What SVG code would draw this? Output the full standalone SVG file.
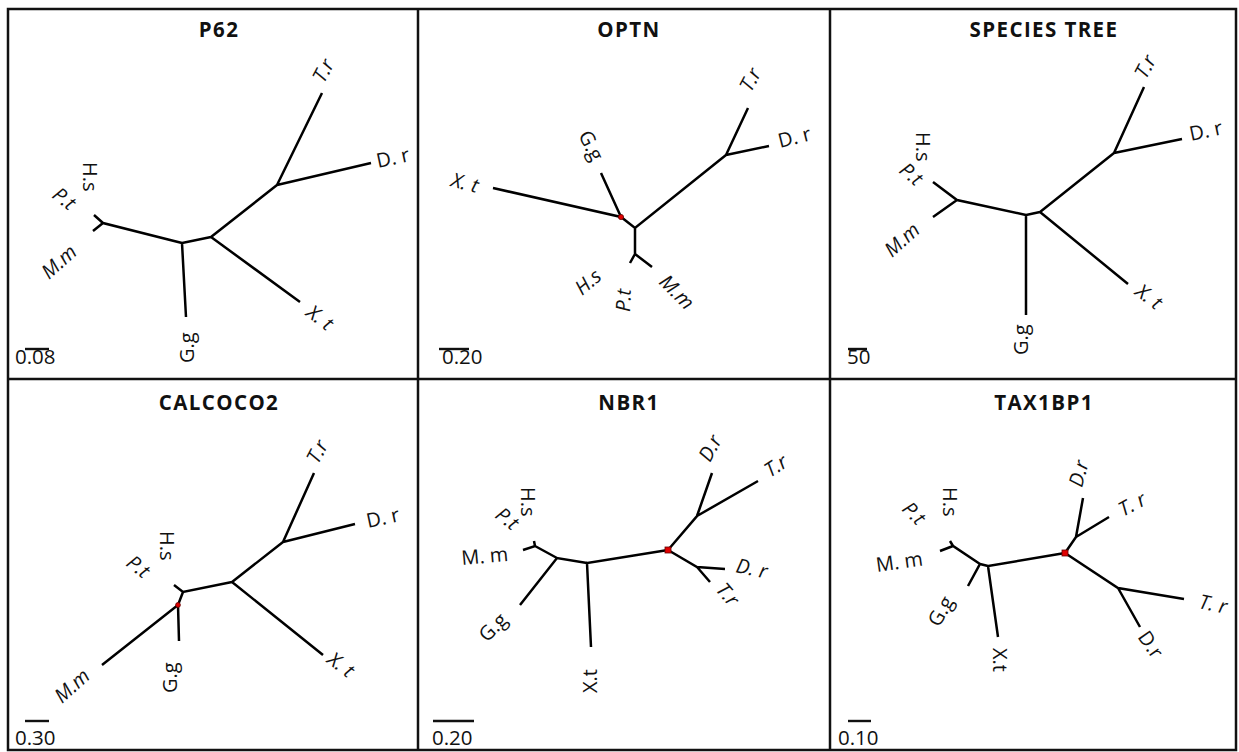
<svg xmlns="http://www.w3.org/2000/svg" width="1239" height="752" viewBox="0 0 1239 752">
  <style>
    .frame { fill: none; stroke: #111; stroke-width: 2.5; }
    .edge { stroke: #000; stroke-width: 2.5; fill: none; }
    .lbl { font-family: "Open Sans", "Liberation Sans", sans-serif; font-size: 20px; fill: #111; }
    .it { font-style: italic; }
    .title { font-family: "Open Sans", "Liberation Sans", sans-serif; font-weight: bold; font-size: 20.5px; letter-spacing: 1.4px; text-anchor: middle; fill: #111; }
    .bar { stroke: #111; stroke-width: 2.4; }
    .barlbl { font-family: "Open Sans", "Liberation Sans", sans-serif; font-size: 20.5px; fill: #111; }
    .dup { fill: #e00000; stroke: #600; stroke-width: 0.8; }
  </style>

  <rect id="background" x="0" y="0" width="1239" height="752" fill="#fff"/>

  <!-- panel grid -->
  <g id="grid">
    <rect class="frame" x="8" y="9" width="1228" height="741"/>
    <line class="frame" x1="418" y1="9" x2="418" y2="750"/>
    <line class="frame" x1="830" y1="9" x2="830" y2="750"/>
    <line class="frame" x1="8" y1="379" x2="1236" y2="379"/>
  </g>

  <!-- P62 -->
  <g id="p62">
    <text class="title" x="219" y="37">P62</text>
    <g id="p62-edges" class="edge">
      <path d="M277,185 L322,93 M277,185 L371,163 M277,185 L211,237 L300,302 M211,237 L182,243 L186,317 M182,243 L103,223 L94,215 M103,223 L93,231"/>
    </g>
    <g id="p62-leaves">
      <text class="lbl it" transform="translate(324,84) rotate(-62)">T.r</text>
      <text class="lbl" transform="translate(378,168) rotate(-12)">D. r</text>
      <text class="lbl it" transform="translate(305,315) rotate(37)">X. t</text>
      <text class="lbl" transform="translate(194,363) rotate(-90)">G.g</text>
      <text class="lbl it" transform="translate(49,280) rotate(-42)">M.m</text>
      <text class="lbl it" transform="translate(51,197) rotate(38)">P.t</text>
      <text class="lbl" transform="translate(83,162) rotate(90)">H.s</text>
    </g>
    <g id="p62-scale">
      <line class="bar" x1="25" y1="349" x2="49" y2="349"/>
      <text class="barlbl" x="15" y="364">0.08</text>
    </g>
  </g>

  <!-- OPTN -->
  <g id="optn">
    <text class="title" x="629" y="37">OPTN</text>
    <g id="optn-edges" class="edge">
      <path d="M726,155 L748,108 M726,155 L769,146 M726,155 L635,228 L621,217 L493,188 M621,217 L601,173 M635,228 L635,254 L630,263 M635,254 L652,267"/>
    </g>
    <circle class="dup" cx="621" cy="217" r="2.6"/>
    <g id="optn-leaves">
      <text class="lbl it" transform="translate(751,93) rotate(-62)">T.r</text>
      <text class="lbl" transform="translate(780,148) rotate(-14)">D. r</text>
      <text class="lbl it" transform="translate(450,186) rotate(15)">X. t</text>
      <text class="lbl" transform="translate(578,135) rotate(63)">G.g</text>
      <text class="lbl it" transform="translate(582,296) rotate(-40)">H.s</text>
      <text class="lbl it" transform="translate(630,312) rotate(-88)">P.t</text>
      <text class="lbl it" transform="translate(658,283) rotate(45)">M.m</text>
    </g>
    <g id="optn-scale">
      <line class="bar" x1="439" y1="349" x2="469" y2="349"/>
      <text class="barlbl" x="442" y="364">0.20</text>
    </g>
  </g>

  <!-- SPECIES TREE -->
  <g id="species">
    <text class="title" x="1044" y="37">SPECIES TREE</text>
    <g id="species-edges" class="edge">
      <path d="M1114,153 L1144,87 M1114,153 L1182,139 M1114,153 L1040,212 L1128,284 M1040,212 L1026,215 L1026,315 M1026,215 L957,200 L933,182 M957,200 L933,217"/>
    </g>
    <g id="species-leaves">
      <text class="lbl it" transform="translate(1146,80) rotate(-62)">T.r</text>
      <text class="lbl" transform="translate(1191,141) rotate(-12)">D. r</text>
      <text class="lbl it" transform="translate(1134,294) rotate(37)">X. t</text>
      <text class="lbl" transform="translate(1028,355) rotate(-90)">G.g</text>
      <text class="lbl it" transform="translate(892,258) rotate(-42)">M.m</text>
      <text class="lbl it" transform="translate(898,172) rotate(40)">P.t</text>
      <text class="lbl" transform="translate(916,132) rotate(90)">H.s</text>
    </g>
    <g id="species-scale">
      <line class="bar" x1="848" y1="349" x2="867" y2="349"/>
      <text class="barlbl" x="847" y="364">50</text>
    </g>
  </g>

  <!-- CALCOCO2 -->
  <g id="calcoco2">
    <text class="title" x="219" y="410">CALCOCO2</text>
    <g id="calcoco2-edges" class="edge">
      <path d="M283,542 L314,473 M283,542 L355,524 M283,542 L232,582 L323,655 M232,582 L183,592 L174,585 M183,592 L178,605 L102,665 M178,605 L179,641"/>
    </g>
    <circle class="dup" cx="178" cy="605" r="2.4"/>
    <g id="calcoco2-leaves">
      <text class="lbl it" transform="translate(318,465) rotate(-62)">T.r</text>
      <text class="lbl" transform="translate(368,528) rotate(-12)">D. r</text>
      <text class="lbl it" transform="translate(326,662) rotate(37)">X. t</text>
      <text class="lbl" transform="translate(177,693) rotate(-90)">G.g</text>
      <text class="lbl it" transform="translate(62,704) rotate(-42)">M.m</text>
      <text class="lbl it" transform="translate(125,565) rotate(38)">P.t</text>
      <text class="lbl" transform="translate(160,531) rotate(90)">H.s</text>
    </g>
    <g id="calcoco2-scale">
      <line class="bar" x1="25" y1="721" x2="49" y2="721"/>
      <text class="barlbl" x="15" y="745">0.30</text>
    </g>
  </g>

  <!-- NBR1 -->
  <g id="nbr1">
    <text class="title" x="629" y="410">NBR1</text>
    <g id="nbr1-edges" class="edge">
      <path d="M668,550 L697,516 L712,473 M697,516 L758,481 M668,550 L697,567 L725,569 M697,567 L710,582 M668,550 L587,563 L591,647 M587,563 L557,558 L520,605 M557,558 L535,546 L523,550 M535,546 L534,541"/>
    </g>
    <rect class="dup" x="665" y="547" width="6" height="6"/>
    <g id="nbr1-leaves">
      <text class="lbl it" transform="translate(710,463) rotate(-62)">D.r</text>
      <text class="lbl it" transform="translate(770,478) rotate(-33)">T.r</text>
      <text class="lbl it" transform="translate(735,572) rotate(12)">D. r</text>
      <text class="lbl it" transform="translate(715,590) rotate(50)">T.r</text>
      <text class="lbl" transform="translate(597,693) rotate(-90)">X.t</text>
      <text class="lbl" transform="translate(487,643) rotate(-45)">G.g</text>
      <text class="lbl" transform="translate(462,565) rotate(-5)">M. m</text>
      <text class="lbl it" transform="translate(494,517) rotate(38)">P.t</text>
      <text class="lbl" transform="translate(521,487) rotate(90)">H.s</text>
    </g>
    <g id="nbr1-scale">
      <line class="bar" x1="433" y1="721" x2="474" y2="721" stroke="#4a4240"/>
      <text class="barlbl" x="432" y="745">0.20</text>
    </g>
  </g>

  <!-- TAX1BP1 -->
  <g id="tax1bp1">
    <text class="title" x="1044" y="410">TAX1BP1</text>
    <g id="tax1bp1-edges" class="edge">
      <path d="M1065,553 L1076,537 L1083,498 M1076,537 L1109,517 M1065,553 L1118,588 L1184,599 M1118,588 L1140,627 M1065,553 L988,566 L998,637 M988,566 L980,564 L968,586 M980,564 L953,546 L940,551 M953,546 L950,541"/>
    </g>
    <rect class="dup" x="1062" y="550" width="6" height="6"/>
    <g id="tax1bp1-leaves">
      <text class="lbl it" transform="translate(1082,488) rotate(-75)">D.r</text>
      <text class="lbl it" transform="translate(1123,517) rotate(-28)">T. r</text>
      <text class="lbl it" transform="translate(1198,608) rotate(12)">T. r</text>
      <text class="lbl" transform="translate(1137,637) rotate(55)">D.r</text>
      <text class="lbl" transform="translate(993,648) rotate(90)">X.t</text>
      <text class="lbl" transform="translate(939,628) rotate(-60)">G.g</text>
      <text class="lbl" transform="translate(877,572) rotate(-8)">M. m</text>
      <text class="lbl it" transform="translate(901,510) rotate(45)">P.t</text>
      <text class="lbl" transform="translate(943,487) rotate(90)">H.s</text>
    </g>
    <g id="tax1bp1-scale">
      <line class="bar" x1="848" y1="721" x2="871" y2="721"/>
      <text class="barlbl" x="838" y="745">0.10</text>
    </g>
  </g>
</svg>
